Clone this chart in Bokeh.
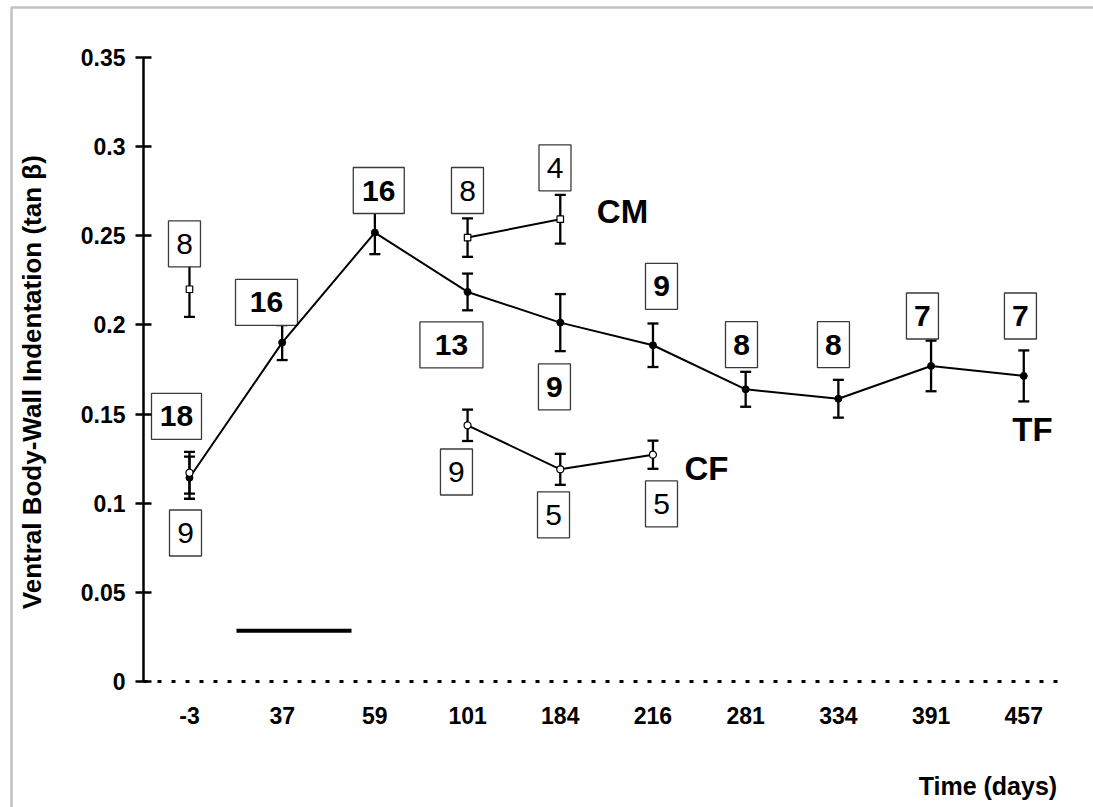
import math

from bokeh.core.properties import value
from bokeh.embed import file_html
from bokeh.models import (BoxAnnotation, ColumnDataSource, FixedTicker, Range1d,
                          TeeHead, Whisker)
from bokeh.plotting import figure
from bokeh.resources import INLINE

# ---- data -------------------------------------------------------------
days = ["-3", "37", "59", "101", "184", "216", "281", "334", "391", "457"]

# TF group: mean, standard error, sample size
tf_mean = [0.1143, 0.1901, 0.2518, 0.2185, 0.2013, 0.1886, 0.1639, 0.1586, 0.1770, 0.1714]
tf_err = [0.0118, 0.0098, 0.0121, 0.0103, 0.0160, 0.0122, 0.0098, 0.0106, 0.0142, 0.0143]
tf_n = [18, 16, 16, 13, 9, 9, 8, 8, 7, 7]

# CM group (baseline at day -3 is shown but not joined)
cm_days = ["-3", "101", "184"]
cm_mean = [0.2200, 0.2490, 0.2593]
cm_err = [0.0155, 0.0108, 0.0137]
cm_n = [8, 8, 4]

# CF group (baseline at day -3 is shown but not joined)
cf_days = ["-3", "101", "184", "216"]
cf_mean = [0.1171, 0.1437, 0.1190, 0.1272]
cf_err = [0.0117, 0.0088, 0.0087, 0.0079]
cf_n = [9, 9, 5, 5]

# treatment period bar
bar_x = [0.507, 1.748]
bar_y = [0.0284, 0.0284]

y_ticks = [0, 0.05, 0.1, 0.15, 0.2, 0.25, 0.3, 0.35]
y_tick_labels = ["0", "0.05", "0.1", "0.15", "0.2", "0.25", "0.3", "0.35"]

# sample-size box positions (category index, value) and box widths (px)
tf_label_x = [-0.140, 0.831, 2.042, 2.826, 3.937, 5.092, 5.955, 6.947, 7.907, 8.964]
tf_label_y = [0.1487, 0.2126, 0.2754, 0.1888, 0.1652, 0.2216, 0.1889, 0.1889, 0.2050, 0.2050]
tf_box_w = [50, 62, 51, 63, 32, 32, 32, 32, 32, 32]

cm_label_x = [-0.054, 2.999, 3.943]
cm_label_y = [0.2455, 0.2754, 0.2881]

cf_label_x = [-0.043, 2.880, 3.927, 5.092]
cf_label_y = [0.0833, 0.1175, 0.0935, 0.0996]

group_names = ["CM", "CF", "TF"]
group_x = [4.671, 5.577, 9.094]
group_y = [0.2635, 0.1192, 0.1411]

x_title = "Time (days)"
x_title_pos = (9.36, -0.0587)
y_title = "Ventral Body-Wall Indentation (tan  \u03b2)"
y_title_pos = (-1.704, 0.1699)

# axis extents inside the drawing area
x_axis_bounds = (-0.496, 9.461)
y_axis_bounds = (0, 0.35)

FONT = "Liberation Sans"

idx = {d: i for i, d in enumerate(days)}


def source(dlist, mean, err):
    xs = [idx[d] for d in dlist]
    return ColumnDataSource(dict(
        x=xs, y=mean,
        upper=[m + e for m, e in zip(mean, err)],
        lower=[m - e for m, e in zip(mean, err)],
    ))


tf_src = source(days, tf_mean, tf_err)
cm_src = source(cm_days, cm_mean, cm_err)
cf_src = source(cf_days, cf_mean, cf_err)

# the plot area fills the whole page; both axes are pinned inside it
p = figure(width=1093, height=807, output_backend="svg", toolbar_location=None,
           x_range=Range1d(-2.0386, 9.7523), y_range=Range1d(-0.07067, 0.38197))
p.min_border = 0
p.outline_line_color = None
p.grid.visible = False
p.background_fill_color = "white"
p.border_fill_color = "white"

# y axis
ya = p.yaxis[0]
ya.fixed_location = x_axis_bounds[0]
ya.bounds = y_axis_bounds
ya.ticker = FixedTicker(ticks=y_ticks)
ya.major_label_overrides = {t: s for t, s in zip(y_ticks, y_tick_labels)}
ya.minor_tick_line_color = None
ya.major_tick_in = 8
ya.major_tick_out = 8
ya.major_tick_line_width = 2.5
ya.axis_line_width = 2.5
ya.major_label_standoff = 10
ya.major_label_text_font = FONT
ya.major_label_text_font_style = "bold"
ya.major_label_text_font_size = "23px"
ya.major_label_text_color = "black"

# x axis: dotted zero line with day labels
xa = p.xaxis[0]
xa.fixed_location = 0
xa.bounds = x_axis_bounds
xa.ticker = FixedTicker(ticks=list(range(len(days))))
xa.major_label_overrides = {i: d for i, d in enumerate(days)}
xa.minor_tick_line_color = None
xa.major_tick_line_color = None
xa.major_tick_in = 0
xa.major_tick_out = 0
xa.axis_line_width = 3
xa.axis_line_dash = "4 10"
xa.major_label_standoff = 25
xa.major_label_text_font = FONT
xa.major_label_text_font_style = "bold"
xa.major_label_text_font_size = "23px"
xa.major_label_text_color = "black"

# axis titles
p.text([x_title_pos[0]], [x_title_pos[1]], text=[x_title], text_align="right",
       text_baseline="middle", text_font=value(FONT), text_font_size="25px",
       text_font_style="bold", text_color="black")
p.text([y_title_pos[0]], [y_title_pos[1]], text=[y_title], angle=math.pi / 2,
       text_align="center", text_baseline="middle", text_font=value(FONT),
       text_font_size="26px", text_font_style="bold", text_color="black")

# page frame: only its left and top edges fall on the page
p.add_layout(BoxAnnotation(left=-1.9199, right=12, top=0.37804, bottom=-0.5,
                           fill_color=None, line_color="#333333", line_width=2.5))


# sample-size boxes
def boxes(xs, ys, ws):
    p.rect(xs, ys, width=ws, height=[46] * len(xs), width_units="screen",
           height_units="screen", fill_color="white", line_color="#3a3a3a",
           line_width=1.3)


boxes(tf_label_x, tf_label_y, tf_box_w)
boxes(cm_label_x, cm_label_y, [32] * len(cm_label_x))
boxes(cf_label_x, cf_label_y, [32] * len(cf_label_x))

# treatment bar
p.line(bar_x, bar_y, line_width=4, line_color="black")

# lines
p.line("x", "y", source=tf_src, line_width=2, line_color="black")
p.line([idx[d] for d in cm_days[1:]], cm_mean[1:], line_width=2, line_color="black")
p.line([idx[d] for d in cf_days[1:]], cf_mean[1:], line_width=2, line_color="black")

# error bars
for src in (tf_src, cm_src, cf_src):
    p.add_layout(Whisker(source=src, base="x", upper="upper", lower="lower",
                         line_width=2.3, line_color="black",
                         upper_head=TeeHead(size=11, line_width=2.3, line_color="black"),
                         lower_head=TeeHead(size=11, line_width=2.3, line_color="black")))

# markers
p.scatter("x", "y", source=tf_src, size=7, marker="circle", fill_color="black",
          line_color="black")
p.scatter("x", "y", source=cm_src, size=6.5, marker="square", fill_color="white",
          line_color="black", line_width=1.2)
p.scatter("x", "y", source=cf_src, size=7, marker="circle", fill_color="white",
          line_color="black", line_width=1.2)

# sample sizes
p.text(tf_label_x, tf_label_y, text=[str(n) for n in tf_n], text_align="center",
       text_baseline="middle", text_font=value(FONT), text_font_size="30px",
       text_font_style="bold", text_color="black")
p.text(cm_label_x + cf_label_x, cm_label_y + cf_label_y,
       text=[str(n) for n in cm_n + cf_n], text_align="center",
       text_baseline="middle", text_font=value(FONT), text_font_size="30px",
       text_font_style="normal", text_color="black")

# group names
p.text(group_x, group_y, text=group_names, text_align="center",
       text_baseline="middle", text_font=value(FONT), text_font_size="33px",
       text_font_style="bold", text_color="black")

open("out.html", "w").write(file_html(p, INLINE))
